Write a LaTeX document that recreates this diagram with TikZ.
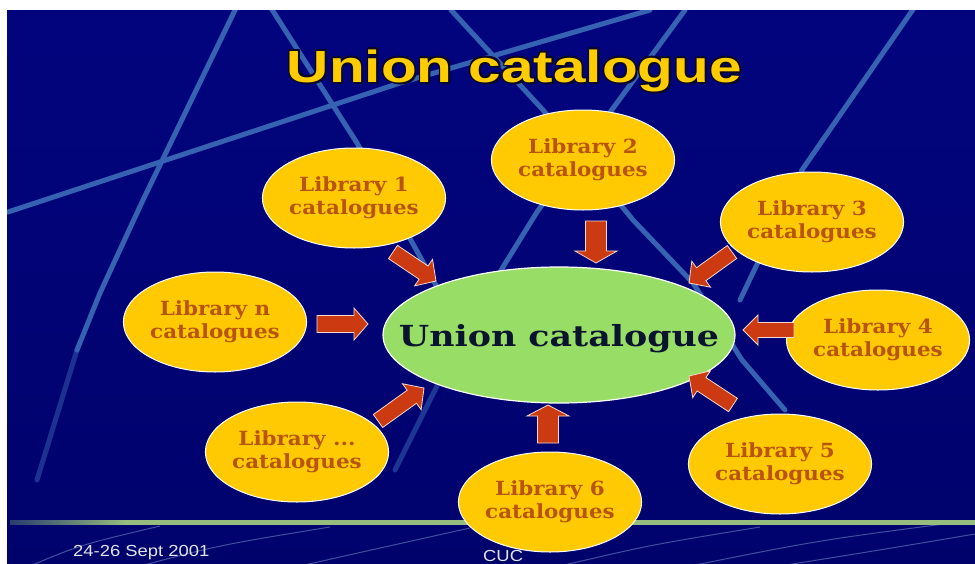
\documentclass[tikz,border=0pt]{standalone}
\usepackage{fontspec}
\usepackage{graphicx}
\usetikzlibrary{shapes.geometric,calc}

\newfontfamily\headfont{Liberation Sans}
\newfontfamily\bodyserif{DejaVu Serif}

\definecolor{bgtop}{RGB}{2,4,126}
\definecolor{bgbot}{RGB}{0,2,108}
\definecolor{streak}{RGB}{54,98,178}
\definecolor{gold}{RGB}{255,202,2}
\definecolor{libtext}{RGB}{184,84,14}
\definecolor{lime}{RGB}{152,222,102}
\definecolor{inktext}{RGB}{10,20,46}
\definecolor{arrowred}{RGB}{204,58,18}
\definecolor{rulegreen}{RGB}{150,188,128}
\definecolor{ruledim}{RGB}{40,60,110}
\definecolor{foot}{RGB}{226,228,236}
\definecolor{titlegold}{RGB}{255,204,0}
\definecolor{titleedge}{RGB}{10,8,40}

% footer rule colour: dim at the left end, green after a short fade
\pgfdeclarehorizontalshading{rulefade}{100bp}{color(0bp)=(ruledim); color(25bp)=(ruledim); color(31bp)=(rulegreen); color(100bp)=(rulegreen)}

% block arrow from #1 to #2: shaft half width #3, head half width #4, head length #5
\newcommand{\fatarrow}[5]{%
  \coordinate (fa-h) at ($(#2)!#5!(#1)$);
  \filldraw[fatarrowstyle]
    ($(#1)!#3!90:(#2)$) -- ($(fa-h)!#3!-90:(#1)$) -- ($(fa-h)!#4!-90:(#1)$)
    -- (#2) -- ($(fa-h)!#4!90:(#1)$) -- ($(fa-h)!#3!90:(#1)$)
    -- ($(#1)!#3!-90:(#2)$) -- cycle;
}
\newcommand{\libtext}[1]{\scalebox{1.1}[1]{\begin{tabular}{@{}c@{}}#1\\catalogues\end{tabular}}}
\newcommand{\titlestr}{\scalebox{1.3}[1]{Union catalogue}}

\tikzset{
  lib/.style={ellipse, fill=gold, draw=white, line width=1pt,
    minimum width=174pt, minimum height=100pt, inner sep=0pt, text=libtext,
    font=\bodyserif\bfseries\fontsize{19.5}{23}\selectfont},
  hub/.style={ellipse, fill=lime, draw=white, line width=1.2pt,
    minimum width=352pt, minimum height=136pt, inner sep=0pt},
  hubtext/.style={inner sep=0pt, anchor=base, text=inktext,
    font=\bodyserif\bfseries\fontsize{29}{29}\selectfont},
  titlestyle/.style={inner sep=0pt, anchor=base,
    font=\headfont\bfseries\fontsize{45}{45}\selectfont},
  streakline/.style={draw=streak, line width=5pt, line cap=round, line join=round},
  swoosh/.style={draw=streak!70!white, line width=1pt, opacity=0.55},
  fatarrowstyle/.style={fill=arrowred, draw=white!80!arrowred, line width=0.8pt, line join=miter},
  footstyle/.style={inner sep=0pt, anchor=base west, text=foot,
    font=\headfont\fontsize{16}{16}\selectfont},
}

\begin{document}
\begin{tikzpicture}[x=1pt,y=-1pt]
\useasboundingbox (0,0) rectangle (975,563);
\fill[white] (0,0) rectangle (975,563);
\shade[top color=bgtop, bottom color=bgbot] (7,10) rectangle (975,563);

% light streaks across the backdrop
\begin{scope}
  \clip (7,10) rectangle (975,520);
  \draw[streakline] (236,8) -- (143,200) -- (100,293) -- (77,350);
  \draw[streakline, opacity=0.5] (77,350) -- (37,480);
  \draw[streakline] (271,8) -- (357,143) -- (433,280) -- (470,345);
  \draw[streakline] (8,212) -- (400,83) -- (650,10);
  \draw[streakline] (451,10) -- (543,110) -- (633,220) -- (693,283) -- (742,360) -- (785,410);
  \draw[streakline] (685,10) -- (537,212) -- (503,267) -- (440,380);
  \draw[streakline, opacity=0.55] (440,380) -- (395,470);
  \draw[streakline] (914,8) -- (802,170) -- (740,300);
\end{scope}

% footer band swooshes
\begin{scope}
  \clip (7,524) rectangle (975,563);
  \draw[swoosh] (30,566) .. controls (80,545) .. (160,526);
  \draw[swoosh] (140,566) .. controls (220,545) .. (330,527);
  \draw[swoosh] (300,566) .. controls (380,548) .. (470,528);
  \draw[swoosh] (560,566) .. controls (650,545) .. (760,527);
  \draw[swoosh] (690,566) .. controls (820,540) .. (975,520);
  \draw[swoosh] (780,566) .. controls (880,550) .. (975,534);
\end{scope}

% footer rule
\shade[shading=rulefade] (10,520.5) rectangle (975,524);

% footer texts
\node[footstyle] (date) at (73,556) {\scalebox{1.15}[1]{24-26 Sept 2001}};
\node[footstyle] (cuc) at (483,561) {\scalebox{1.15}[1]{CUC}};

% central node
\node[hub] (uc) at (559,335) {};
\node[hubtext] (uc-label) at (559,346) {\scalebox{1.2}[1]{Union catalogue}};

% library nodes
\node[lib] (lib1) at (354,198) {\libtext{Library 1}};
\node[lib] (lib2) at (583,160) {\libtext{Library 2}};
\node[lib] (lib3) at (812,222) {\libtext{Library 3}};
\node[lib] (lib4) at (878,340) {\libtext{Library 4}};
\node[lib] (lib5) at (780,464) {\libtext{Library 5}};
\node[lib] (lib6) at (550,502) {\libtext{Library 6}};
\node[lib] (libdots) at (297,452) {\libtext{Library ...}};
\node[lib] (libn) at (215,322) {\libtext{Library n}};

% arrow ends
\coordinate (a1s) at (393,252); \coordinate (a1t) at (436,281);
\coordinate (a2s) at (596,221); \coordinate (a2t) at (596,263);
\coordinate (a3s) at (732,252); \coordinate (a3t) at (689,283);
\coordinate (a4s) at (794,330); \coordinate (a4t) at (743,330);
\coordinate (a5s) at (733,405); \coordinate (a5t) at (689,376);
\coordinate (a6s) at (548,443); \coordinate (a6t) at (548,405);
\coordinate (a7s) at (378,421); \coordinate (a7t) at (424,388);
\coordinate (ans) at (317,324); \coordinate (ant) at (368,324);

\fatarrow{a1s}{a1t}{8pt}{16pt}{15pt}
\fatarrow{a2s}{a2t}{10.5pt}{21pt}{12pt}
\fatarrow{a3s}{a3t}{8pt}{16pt}{15pt}
\fatarrow{a4s}{a4t}{7.5pt}{15pt}{15pt}
\fatarrow{a5s}{a5t}{8pt}{16pt}{15pt}
\fatarrow{a6s}{a6t}{10.5pt}{21pt}{11pt}
\fatarrow{a7s}{a7t}{8pt}{16pt}{15pt}
\fatarrow{ans}{ant}{8.5pt}{16pt}{14pt}

% heading with a dark rim
\foreach \dx/\dy [count=\k] in {1.4/0,-1.4/0,0/1.4,0/-1.4,1.1/1.1,-1.1/1.1,1.1/-1.1,-1.1/-1.1,2/2}
  \node[titlestyle, text=titleedge] (title-rim-\k) at ({514.5+(\dx)},{82+(\dy)}) {\titlestr};
\node[titlestyle, text=titlegold] (title) at (514.5,82) {\titlestr};
\end{tikzpicture}
\end{document}
